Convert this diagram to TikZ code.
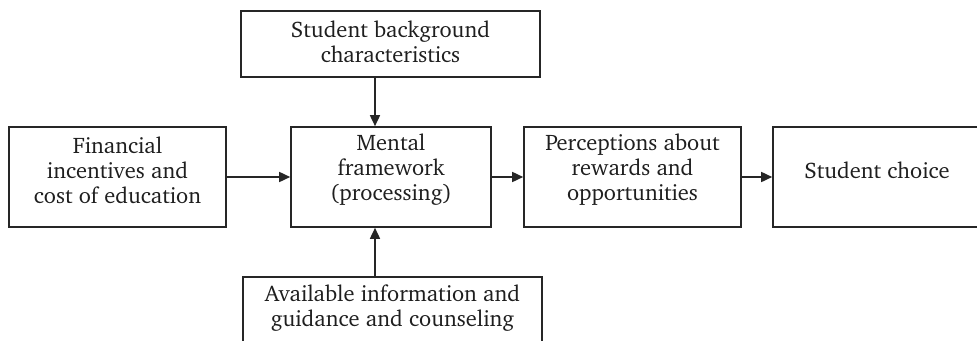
\documentclass[tikz,border=0pt]{standalone}
\usepackage[T1]{fontenc}
\usepackage{charter}
\usetikzlibrary{arrows.meta}
\begin{document}
\begin{tikzpicture}[x=1pt,y=-1pt,
  box/.style={draw=black!85, line width=1.6pt, rectangle, inner sep=0pt, minimum height=100pt},
  txt/.style={align=center, font=\fontsize{22.5}{25}\selectfont, text=black!88, inner sep=0pt},
  arr/.style={draw=black!85, line width=1.6pt, -{Triangle[length=11pt,width=10pt]}}]
\useasboundingbox (0,0) rectangle (977,340);
\clip (0,0) rectangle (977,340);

% boxes
\node[box, minimum width=299pt, minimum height=66pt] (top) at (390.5,44) {};
\node[box, minimum width=217pt] (fin) at (117.5,177) {};
\node[box, minimum width=200pt] (mid) at (391,177) {};
\node[box, minimum width=217pt] (per) at (632.5,177) {};
\node[box, minimum width=217pt] (cho) at (881.5,177) {};
\node[box, minimum width=299pt, minimum height=70pt] (bot) at (392.5,312) {};

% labels
\node[txt] (topt) at (390.5,42) {Student background\\characteristics};
\node[txt] (fint) at (117.5,170) {Financial\\incentives and\\cost of education};
\node[txt] (midt) at (391,170) {Mental\\framework\\(processing)};
\node[txt] (pert) at (632.5,170) {Perceptions about\\rewards and\\opportunities};
\node[txt] (chot) at (877,170) {Student choice};
\node[txt] (bott) at (392.5,308) {Available information and\\guidance and counseling};

% connectors
\coordinate (ax) at (375,0);
\draw[arr] (top.south -| ax) -- (mid.north -| ax);
\draw[arr] (bot.north -| ax) -- (mid.south -| ax);
\draw[arr] (fin.east) -- (mid.west);
\draw[arr] (mid.east) -- (per.west);
\draw[arr] (per.east) -- (cho.west);
\end{tikzpicture}
\end{document}
